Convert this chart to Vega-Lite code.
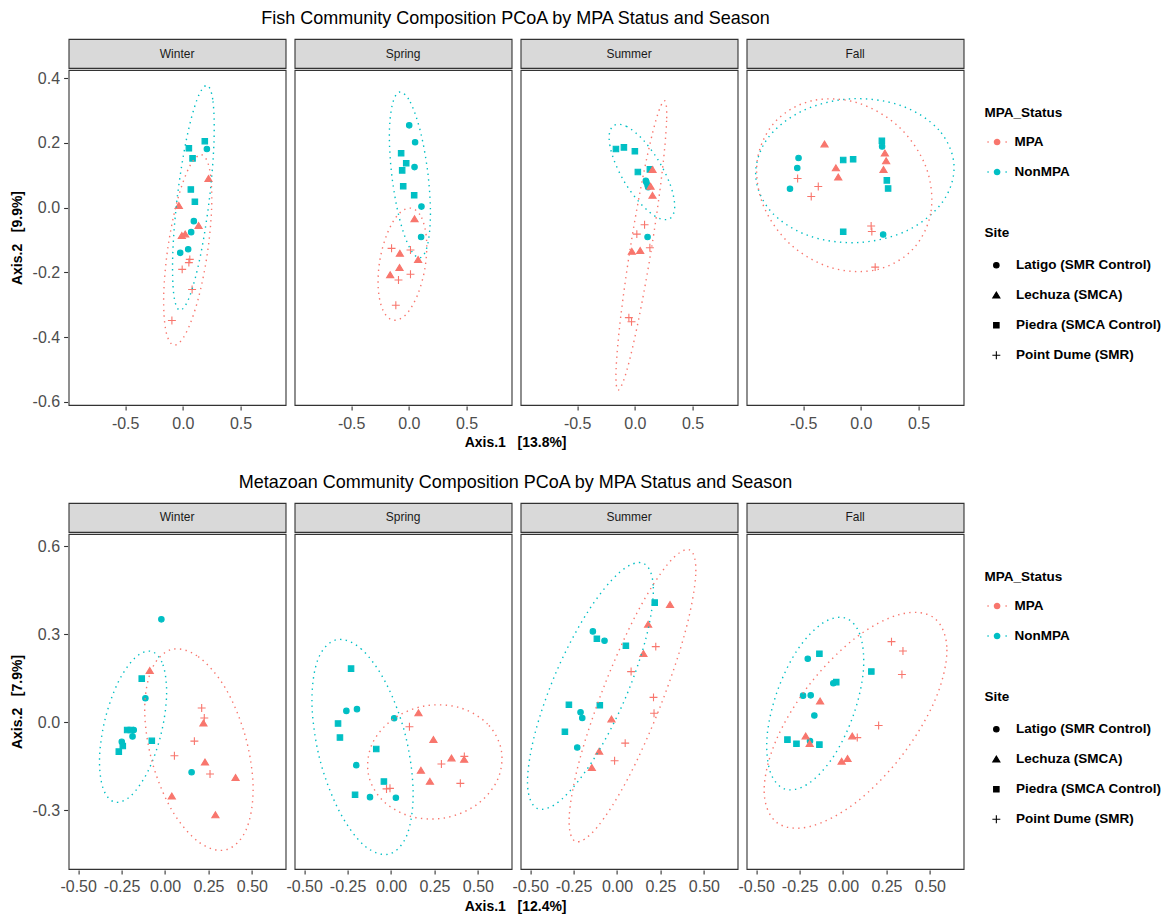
{
  "$schema": "https://vega.github.io/schema/vega-lite/v6.json",
  "background": "white",
  "padding": {"left": 9.6, "top": 10, "right": 0, "bottom": 0},
  "datasets": {
    "seasons": [{"Season": "Winter"}, {"Season": "Spring"}, {"Season": "Summer"}, {"Season": "Fall"}],
    "fish": [
      {"Season": "Winter", "MPA_Status": "NonMPA", "Site": "Piedra (SMCA Control)", "x": 0.052, "y": 0.183},
      {"Season": "Winter", "MPA_Status": "NonMPA", "Site": "Piedra (SMCA Control)", "x": 0.190, "y": 0.205},
      {"Season": "Winter", "MPA_Status": "NonMPA", "Site": "Piedra (SMCA Control)", "x": 0.084, "y": 0.152},
      {"Season": "Winter", "MPA_Status": "NonMPA", "Site": "Piedra (SMCA Control)", "x": 0.069, "y": 0.056},
      {"Season": "Winter", "MPA_Status": "NonMPA", "Site": "Piedra (SMCA Control)", "x": 0.104, "y": 0.018},
      {"Season": "Winter", "MPA_Status": "NonMPA", "Site": "Latigo (SMR Control)", "x": 0.208, "y": 0.181},
      {"Season": "Winter", "MPA_Status": "NonMPA", "Site": "Latigo (SMR Control)", "x": 0.095, "y": -0.042},
      {"Season": "Winter", "MPA_Status": "NonMPA", "Site": "Latigo (SMR Control)", "x": 0.072, "y": -0.076},
      {"Season": "Winter", "MPA_Status": "NonMPA", "Site": "Latigo (SMR Control)", "x": 0.046, "y": -0.129},
      {"Season": "Winter", "MPA_Status": "NonMPA", "Site": "Latigo (SMR Control)", "x": -0.023, "y": -0.140},
      {"Season": "Winter", "MPA_Status": "MPA", "Site": "Lechuza (SMCA)", "x": 0.222, "y": 0.089},
      {"Season": "Winter", "MPA_Status": "MPA", "Site": "Lechuza (SMCA)", "x": -0.035, "y": 0.006},
      {"Season": "Winter", "MPA_Status": "MPA", "Site": "Lechuza (SMCA)", "x": 0.136, "y": -0.056},
      {"Season": "Winter", "MPA_Status": "MPA", "Site": "Lechuza (SMCA)", "x": 0.020, "y": -0.082},
      {"Season": "Winter", "MPA_Status": "MPA", "Site": "Lechuza (SMCA)", "x": -0.009, "y": -0.087},
      {"Season": "Winter", "MPA_Status": "MPA", "Site": "Point Dume (SMR)", "x": 0.060, "y": -0.160},
      {"Season": "Winter", "MPA_Status": "MPA", "Site": "Point Dume (SMR)", "x": 0.052, "y": -0.170},
      {"Season": "Winter", "MPA_Status": "MPA", "Site": "Point Dume (SMR)", "x": -0.006, "y": -0.191},
      {"Season": "Winter", "MPA_Status": "MPA", "Site": "Point Dume (SMR)", "x": 0.080, "y": -0.253},
      {"Season": "Winter", "MPA_Status": "MPA", "Site": "Point Dume (SMR)", "x": -0.095, "y": -0.349},
      {"Season": "Spring", "MPA_Status": "NonMPA", "Site": "Latigo (SMR Control)", "x": 0.003, "y": 0.254},
      {"Season": "Spring", "MPA_Status": "NonMPA", "Site": "Latigo (SMR Control)", "x": 0.054, "y": 0.202},
      {"Season": "Spring", "MPA_Status": "NonMPA", "Site": "Latigo (SMR Control)", "x": 0.049, "y": 0.125},
      {"Season": "Spring", "MPA_Status": "NonMPA", "Site": "Latigo (SMR Control)", "x": 0.109, "y": 0.003},
      {"Season": "Spring", "MPA_Status": "NonMPA", "Site": "Latigo (SMR Control)", "x": 0.106, "y": -0.091},
      {"Season": "Spring", "MPA_Status": "NonMPA", "Site": "Piedra (SMCA Control)", "x": -0.067, "y": 0.168},
      {"Season": "Spring", "MPA_Status": "NonMPA", "Site": "Piedra (SMCA Control)", "x": -0.023, "y": 0.137},
      {"Season": "Spring", "MPA_Status": "NonMPA", "Site": "Piedra (SMCA Control)", "x": -0.058, "y": 0.115},
      {"Season": "Spring", "MPA_Status": "NonMPA", "Site": "Piedra (SMCA Control)", "x": -0.049, "y": 0.066},
      {"Season": "Spring", "MPA_Status": "NonMPA", "Site": "Piedra (SMCA Control)", "x": 0.046, "y": 0.038},
      {"Season": "Spring", "MPA_Status": "MPA", "Site": "Lechuza (SMCA)", "x": 0.049, "y": -0.035},
      {"Season": "Spring", "MPA_Status": "MPA", "Site": "Lechuza (SMCA)", "x": -0.078, "y": -0.142},
      {"Season": "Spring", "MPA_Status": "MPA", "Site": "Lechuza (SMCA)", "x": 0.080, "y": -0.161},
      {"Season": "Spring", "MPA_Status": "MPA", "Site": "Lechuza (SMCA)", "x": -0.081, "y": -0.186},
      {"Season": "Spring", "MPA_Status": "MPA", "Site": "Lechuza (SMCA)", "x": -0.162, "y": -0.208},
      {"Season": "Spring", "MPA_Status": "MPA", "Site": "Point Dume (SMR)", "x": -0.150, "y": -0.126},
      {"Season": "Spring", "MPA_Status": "MPA", "Site": "Point Dume (SMR)", "x": 0.014, "y": -0.131},
      {"Season": "Spring", "MPA_Status": "MPA", "Site": "Point Dume (SMR)", "x": 0.014, "y": -0.206},
      {"Season": "Spring", "MPA_Status": "MPA", "Site": "Point Dume (SMR)", "x": -0.090, "y": -0.224},
      {"Season": "Spring", "MPA_Status": "MPA", "Site": "Point Dume (SMR)", "x": -0.113, "y": -0.302},
      {"Season": "Summer", "MPA_Status": "NonMPA", "Site": "Piedra (SMCA Control)", "x": -0.164, "y": 0.181},
      {"Season": "Summer", "MPA_Status": "NonMPA", "Site": "Piedra (SMCA Control)", "x": -0.095, "y": 0.186},
      {"Season": "Summer", "MPA_Status": "NonMPA", "Site": "Piedra (SMCA Control)", "x": 0.000, "y": 0.174},
      {"Season": "Summer", "MPA_Status": "NonMPA", "Site": "Piedra (SMCA Control)", "x": 0.026, "y": 0.110},
      {"Season": "Summer", "MPA_Status": "NonMPA", "Site": "Piedra (SMCA Control)", "x": 0.130, "y": 0.118},
      {"Season": "Summer", "MPA_Status": "NonMPA", "Site": "Latigo (SMR Control)", "x": 0.095, "y": 0.083},
      {"Season": "Summer", "MPA_Status": "NonMPA", "Site": "Latigo (SMR Control)", "x": 0.110, "y": 0.069},
      {"Season": "Summer", "MPA_Status": "NonMPA", "Site": "Latigo (SMR Control)", "x": 0.100, "y": 0.078},
      {"Season": "Summer", "MPA_Status": "NonMPA", "Site": "Latigo (SMR Control)", "x": 0.115, "y": 0.063},
      {"Season": "Summer", "MPA_Status": "NonMPA", "Site": "Latigo (SMR Control)", "x": 0.110, "y": -0.091},
      {"Season": "Summer", "MPA_Status": "MPA", "Site": "Lechuza (SMCA)", "x": 0.153, "y": 0.117},
      {"Season": "Summer", "MPA_Status": "MPA", "Site": "Lechuza (SMCA)", "x": 0.136, "y": 0.065},
      {"Season": "Summer", "MPA_Status": "MPA", "Site": "Lechuza (SMCA)", "x": 0.153, "y": 0.037},
      {"Season": "Summer", "MPA_Status": "MPA", "Site": "Lechuza (SMCA)", "x": -0.026, "y": -0.136},
      {"Season": "Summer", "MPA_Status": "MPA", "Site": "Lechuza (SMCA)", "x": 0.046, "y": -0.133},
      {"Season": "Summer", "MPA_Status": "MPA", "Site": "Point Dume (SMR)", "x": 0.084, "y": -0.053},
      {"Season": "Summer", "MPA_Status": "MPA", "Site": "Point Dume (SMR)", "x": 0.017, "y": -0.082},
      {"Season": "Summer", "MPA_Status": "MPA", "Site": "Point Dume (SMR)", "x": 0.130, "y": -0.124},
      {"Season": "Summer", "MPA_Status": "MPA", "Site": "Point Dume (SMR)", "x": -0.052, "y": -0.340},
      {"Season": "Summer", "MPA_Status": "MPA", "Site": "Point Dume (SMR)", "x": -0.029, "y": -0.353},
      {"Season": "Fall", "MPA_Status": "NonMPA", "Site": "Latigo (SMR Control)", "x": -0.540, "y": 0.153},
      {"Season": "Fall", "MPA_Status": "NonMPA", "Site": "Latigo (SMR Control)", "x": -0.551, "y": 0.122},
      {"Season": "Fall", "MPA_Status": "NonMPA", "Site": "Latigo (SMR Control)", "x": -0.614, "y": 0.058},
      {"Season": "Fall", "MPA_Status": "NonMPA", "Site": "Latigo (SMR Control)", "x": 0.184, "y": 0.189},
      {"Season": "Fall", "MPA_Status": "NonMPA", "Site": "Latigo (SMR Control)", "x": 0.193, "y": -0.083},
      {"Season": "Fall", "MPA_Status": "NonMPA", "Site": "Piedra (SMCA Control)", "x": 0.182, "y": 0.206},
      {"Season": "Fall", "MPA_Status": "NonMPA", "Site": "Piedra (SMCA Control)", "x": -0.153, "y": 0.147},
      {"Season": "Fall", "MPA_Status": "NonMPA", "Site": "Piedra (SMCA Control)", "x": -0.067, "y": 0.149},
      {"Season": "Fall", "MPA_Status": "NonMPA", "Site": "Piedra (SMCA Control)", "x": 0.225, "y": 0.084},
      {"Season": "Fall", "MPA_Status": "NonMPA", "Site": "Piedra (SMCA Control)", "x": 0.236, "y": 0.059},
      {"Season": "Fall", "MPA_Status": "NonMPA", "Site": "Piedra (SMCA Control)", "x": -0.153, "y": -0.075},
      {"Season": "Fall", "MPA_Status": "MPA", "Site": "Lechuza (SMCA)", "x": -0.315, "y": 0.196},
      {"Season": "Fall", "MPA_Status": "MPA", "Site": "Lechuza (SMCA)", "x": 0.208, "y": 0.168},
      {"Season": "Fall", "MPA_Status": "MPA", "Site": "Lechuza (SMCA)", "x": 0.219, "y": 0.144},
      {"Season": "Fall", "MPA_Status": "MPA", "Site": "Lechuza (SMCA)", "x": -0.216, "y": 0.122},
      {"Season": "Fall", "MPA_Status": "MPA", "Site": "Lechuza (SMCA)", "x": -0.196, "y": 0.094},
      {"Season": "Fall", "MPA_Status": "MPA", "Site": "Lechuza (SMCA)", "x": 0.196, "y": 0.117},
      {"Season": "Fall", "MPA_Status": "MPA", "Site": "Point Dume (SMR)", "x": -0.548, "y": 0.090},
      {"Season": "Fall", "MPA_Status": "MPA", "Site": "Point Dume (SMR)", "x": -0.369, "y": 0.065},
      {"Season": "Fall", "MPA_Status": "MPA", "Site": "Point Dume (SMR)", "x": -0.430, "y": 0.034},
      {"Season": "Fall", "MPA_Status": "MPA", "Site": "Point Dume (SMR)", "x": 0.089, "y": -0.057},
      {"Season": "Fall", "MPA_Status": "MPA", "Site": "Point Dume (SMR)", "x": 0.095, "y": -0.074},
      {"Season": "Fall", "MPA_Status": "MPA", "Site": "Point Dume (SMR)", "x": 0.124, "y": -0.184},
      {"Season": "Winter", "MPA_Status": "NonMPA", "k": 0, "x": 0.208, "y": 0.377},
      {"Season": "Winter", "MPA_Status": "NonMPA", "k": 1, "x": 0.261, "y": 0.328},
      {"Season": "Winter", "MPA_Status": "NonMPA", "k": 2, "x": 0.269, "y": 0.198},
      {"Season": "Winter", "MPA_Status": "NonMPA", "k": 3, "x": 0.229, "y": 0.024},
      {"Season": "Winter", "MPA_Status": "NonMPA", "k": 4, "x": 0.152, "y": -0.149},
      {"Season": "Winter", "MPA_Status": "NonMPA", "k": 5, "x": 0.059, "y": -0.274},
      {"Season": "Winter", "MPA_Status": "NonMPA", "k": 6, "x": -0.026, "y": -0.317},
      {"Season": "Winter", "MPA_Status": "NonMPA", "k": 7, "x": -0.079, "y": -0.268},
      {"Season": "Winter", "MPA_Status": "NonMPA", "k": 8, "x": -0.087, "y": -0.138},
      {"Season": "Winter", "MPA_Status": "NonMPA", "k": 9, "x": -0.047, "y": 0.036},
      {"Season": "Winter", "MPA_Status": "NonMPA", "k": 10, "x": 0.030, "y": 0.209},
      {"Season": "Winter", "MPA_Status": "NonMPA", "k": 11, "x": 0.123, "y": 0.334},
      {"Season": "Winter", "MPA_Status": "MPA", "k": 0, "x": 0.162, "y": 0.163},
      {"Season": "Winter", "MPA_Status": "MPA", "k": 1, "x": 0.231, "y": 0.119},
      {"Season": "Winter", "MPA_Status": "MPA", "k": 2, "x": 0.250, "y": 0.008},
      {"Season": "Winter", "MPA_Status": "MPA", "k": 3, "x": 0.213, "y": -0.140},
      {"Season": "Winter", "MPA_Status": "MPA", "k": 4, "x": 0.130, "y": -0.286},
      {"Season": "Winter", "MPA_Status": "MPA", "k": 5, "x": 0.024, "y": -0.390},
      {"Season": "Winter", "MPA_Status": "MPA", "k": 6, "x": -0.078, "y": -0.425},
      {"Season": "Winter", "MPA_Status": "MPA", "k": 7, "x": -0.147, "y": -0.381},
      {"Season": "Winter", "MPA_Status": "MPA", "k": 8, "x": -0.166, "y": -0.270},
      {"Season": "Winter", "MPA_Status": "MPA", "k": 9, "x": -0.129, "y": -0.122},
      {"Season": "Winter", "MPA_Status": "MPA", "k": 10, "x": -0.046, "y": 0.024},
      {"Season": "Winter", "MPA_Status": "MPA", "k": 11, "x": 0.060, "y": 0.128},
      {"Season": "Spring", "MPA_Status": "NonMPA", "k": 0, "x": -0.078, "y": 0.357},
      {"Season": "Spring", "MPA_Status": "NonMPA", "k": 1, "x": 0.012, "y": 0.326},
      {"Season": "Spring", "MPA_Status": "NonMPA", "k": 2, "x": 0.100, "y": 0.235},
      {"Season": "Spring", "MPA_Status": "NonMPA", "k": 3, "x": 0.164, "y": 0.108},
      {"Season": "Spring", "MPA_Status": "NonMPA", "k": 4, "x": 0.187, "y": -0.021},
      {"Season": "Spring", "MPA_Status": "NonMPA", "k": 5, "x": 0.161, "y": -0.117},
      {"Season": "Spring", "MPA_Status": "NonMPA", "k": 6, "x": 0.096, "y": -0.155},
      {"Season": "Spring", "MPA_Status": "NonMPA", "k": 7, "x": 0.006, "y": -0.124},
      {"Season": "Spring", "MPA_Status": "NonMPA", "k": 8, "x": -0.082, "y": -0.033},
      {"Season": "Spring", "MPA_Status": "NonMPA", "k": 9, "x": -0.146, "y": 0.094},
      {"Season": "Spring", "MPA_Status": "NonMPA", "k": 10, "x": -0.169, "y": 0.223},
      {"Season": "Spring", "MPA_Status": "NonMPA", "k": 11, "x": -0.143, "y": 0.319},
      {"Season": "Spring", "MPA_Status": "MPA", "k": 0, "x": 0.023, "y": -0.002},
      {"Season": "Spring", "MPA_Status": "MPA", "k": 1, "x": 0.110, "y": -0.031},
      {"Season": "Spring", "MPA_Status": "MPA", "k": 2, "x": 0.153, "y": -0.098},
      {"Season": "Spring", "MPA_Status": "MPA", "k": 3, "x": 0.140, "y": -0.186},
      {"Season": "Spring", "MPA_Status": "MPA", "k": 4, "x": 0.074, "y": -0.271},
      {"Season": "Spring", "MPA_Status": "MPA", "k": 5, "x": -0.026, "y": -0.331},
      {"Season": "Spring", "MPA_Status": "MPA", "k": 6, "x": -0.135, "y": -0.348},
      {"Season": "Spring", "MPA_Status": "MPA", "k": 7, "x": -0.222, "y": -0.319},
      {"Season": "Spring", "MPA_Status": "MPA", "k": 8, "x": -0.265, "y": -0.252},
      {"Season": "Spring", "MPA_Status": "MPA", "k": 9, "x": -0.252, "y": -0.164},
      {"Season": "Spring", "MPA_Status": "MPA", "k": 10, "x": -0.186, "y": -0.079},
      {"Season": "Spring", "MPA_Status": "MPA", "k": 11, "x": -0.086, "y": -0.019},
      {"Season": "Summer", "MPA_Status": "NonMPA", "k": 0, "x": -0.181, "y": 0.254},
      {"Season": "Summer", "MPA_Status": "NonMPA", "k": 1, "x": -0.074, "y": 0.251},
      {"Season": "Summer", "MPA_Status": "NonMPA", "k": 2, "x": 0.069, "y": 0.210},
      {"Season": "Summer", "MPA_Status": "NonMPA", "k": 3, "x": 0.210, "y": 0.142},
      {"Season": "Summer", "MPA_Status": "NonMPA", "k": 4, "x": 0.311, "y": 0.066},
      {"Season": "Summer", "MPA_Status": "NonMPA", "k": 5, "x": 0.345, "y": 0.001},
      {"Season": "Summer", "MPA_Status": "NonMPA", "k": 6, "x": 0.303, "y": -0.034},
      {"Season": "Summer", "MPA_Status": "NonMPA", "k": 7, "x": 0.196, "y": -0.031},
      {"Season": "Summer", "MPA_Status": "NonMPA", "k": 8, "x": 0.053, "y": 0.011},
      {"Season": "Summer", "MPA_Status": "NonMPA", "k": 9, "x": -0.088, "y": 0.078},
      {"Season": "Summer", "MPA_Status": "NonMPA", "k": 10, "x": -0.189, "y": 0.155},
      {"Season": "Summer", "MPA_Status": "NonMPA", "k": 11, "x": -0.223, "y": 0.219},
      {"Season": "Summer", "MPA_Status": "MPA", "k": 0, "x": 0.257, "y": 0.330},
      {"Season": "Summer", "MPA_Status": "MPA", "k": 1, "x": 0.275, "y": 0.268},
      {"Season": "Summer", "MPA_Status": "MPA", "k": 2, "x": 0.234, "y": 0.102},
      {"Season": "Summer", "MPA_Status": "MPA", "k": 3, "x": 0.146, "y": -0.122},
      {"Season": "Summer", "MPA_Status": "MPA", "k": 4, "x": 0.033, "y": -0.345},
      {"Season": "Summer", "MPA_Status": "MPA", "k": 5, "x": -0.073, "y": -0.507},
      {"Season": "Summer", "MPA_Status": "MPA", "k": 6, "x": -0.145, "y": -0.564},
      {"Season": "Summer", "MPA_Status": "MPA", "k": 7, "x": -0.163, "y": -0.502},
      {"Season": "Summer", "MPA_Status": "MPA", "k": 8, "x": -0.122, "y": -0.336},
      {"Season": "Summer", "MPA_Status": "MPA", "k": 9, "x": -0.034, "y": -0.112},
      {"Season": "Summer", "MPA_Status": "MPA", "k": 10, "x": 0.079, "y": 0.111},
      {"Season": "Summer", "MPA_Status": "MPA", "k": 11, "x": 0.185, "y": 0.273},
      {"Season": "Fall", "MPA_Status": "NonMPA", "k": 0, "x": 0.807, "y": 0.131},
      {"Season": "Fall", "MPA_Status": "NonMPA", "k": 1, "x": 0.675, "y": 0.240},
      {"Season": "Fall", "MPA_Status": "NonMPA", "k": 2, "x": 0.348, "y": 0.315},
      {"Season": "Fall", "MPA_Status": "NonMPA", "k": 3, "x": -0.086, "y": 0.336},
      {"Season": "Fall", "MPA_Status": "NonMPA", "k": 4, "x": -0.511, "y": 0.298},
      {"Season": "Fall", "MPA_Status": "NonMPA", "k": 5, "x": -0.813, "y": 0.211},
      {"Season": "Fall", "MPA_Status": "NonMPA", "k": 6, "x": -0.911, "y": 0.097},
      {"Season": "Fall", "MPA_Status": "NonMPA", "k": 7, "x": -0.779, "y": -0.012},
      {"Season": "Fall", "MPA_Status": "NonMPA", "k": 8, "x": -0.452, "y": -0.087},
      {"Season": "Fall", "MPA_Status": "NonMPA", "k": 9, "x": -0.018, "y": -0.108},
      {"Season": "Fall", "MPA_Status": "NonMPA", "k": 10, "x": 0.407, "y": -0.070},
      {"Season": "Fall", "MPA_Status": "NonMPA", "k": 11, "x": 0.709, "y": 0.018},
      {"Season": "Fall", "MPA_Status": "MPA", "k": 0, "x": 0.452, "y": -0.128},
      {"Season": "Fall", "MPA_Status": "MPA", "k": 1, "x": 0.608, "y": -0.011},
      {"Season": "Fall", "MPA_Status": "MPA", "k": 2, "x": 0.562, "y": 0.127},
      {"Season": "Fall", "MPA_Status": "MPA", "k": 3, "x": 0.327, "y": 0.250},
      {"Season": "Fall", "MPA_Status": "MPA", "k": 4, "x": -0.034, "y": 0.324},
      {"Season": "Fall", "MPA_Status": "MPA", "k": 5, "x": -0.425, "y": 0.330},
      {"Season": "Fall", "MPA_Status": "MPA", "k": 6, "x": -0.740, "y": 0.266},
      {"Season": "Fall", "MPA_Status": "MPA", "k": 7, "x": -0.896, "y": 0.149},
      {"Season": "Fall", "MPA_Status": "MPA", "k": 8, "x": -0.850, "y": 0.011},
      {"Season": "Fall", "MPA_Status": "MPA", "k": 9, "x": -0.615, "y": -0.112},
      {"Season": "Fall", "MPA_Status": "MPA", "k": 10, "x": -0.254, "y": -0.186},
      {"Season": "Fall", "MPA_Status": "MPA", "k": 11, "x": 0.137, "y": -0.192}
    ],
    "meta": [
      {"Season": "Winter", "MPA_Status": "NonMPA", "Site": "Latigo (SMR Control)", "x": -0.021, "y": 0.350},
      {"Season": "Winter", "MPA_Status": "NonMPA", "Site": "Latigo (SMR Control)", "x": -0.113, "y": 0.081},
      {"Season": "Winter", "MPA_Status": "NonMPA", "Site": "Latigo (SMR Control)", "x": -0.180, "y": -0.027},
      {"Season": "Winter", "MPA_Status": "NonMPA", "Site": "Latigo (SMR Control)", "x": -0.187, "y": -0.049},
      {"Season": "Winter", "MPA_Status": "NonMPA", "Site": "Latigo (SMR Control)", "x": -0.249, "y": -0.067},
      {"Season": "Winter", "MPA_Status": "NonMPA", "Site": "Latigo (SMR Control)", "x": 0.153, "y": -0.171},
      {"Season": "Winter", "MPA_Status": "NonMPA", "Site": "Piedra (SMCA Control)", "x": -0.134, "y": 0.148},
      {"Season": "Winter", "MPA_Status": "NonMPA", "Site": "Piedra (SMCA Control)", "x": -0.218, "y": -0.027},
      {"Season": "Winter", "MPA_Status": "NonMPA", "Site": "Piedra (SMCA Control)", "x": -0.197, "y": -0.027},
      {"Season": "Winter", "MPA_Status": "NonMPA", "Site": "Piedra (SMCA Control)", "x": -0.076, "y": -0.064},
      {"Season": "Winter", "MPA_Status": "NonMPA", "Site": "Piedra (SMCA Control)", "x": -0.243, "y": -0.082},
      {"Season": "Winter", "MPA_Status": "NonMPA", "Site": "Piedra (SMCA Control)", "x": -0.266, "y": -0.101},
      {"Season": "Winter", "MPA_Status": "MPA", "Site": "Lechuza (SMCA)", "x": -0.088, "y": 0.175},
      {"Season": "Winter", "MPA_Status": "MPA", "Site": "Lechuza (SMCA)", "x": 0.221, "y": -0.004},
      {"Season": "Winter", "MPA_Status": "MPA", "Site": "Lechuza (SMCA)", "x": 0.230, "y": -0.137},
      {"Season": "Winter", "MPA_Status": "MPA", "Site": "Lechuza (SMCA)", "x": 0.406, "y": -0.190},
      {"Season": "Winter", "MPA_Status": "MPA", "Site": "Lechuza (SMCA)", "x": 0.039, "y": -0.253},
      {"Season": "Winter", "MPA_Status": "MPA", "Site": "Lechuza (SMCA)", "x": 0.290, "y": -0.317},
      {"Season": "Winter", "MPA_Status": "MPA", "Site": "Point Dume (SMR)", "x": 0.211, "y": 0.048},
      {"Season": "Winter", "MPA_Status": "MPA", "Site": "Point Dume (SMR)", "x": 0.226, "y": 0.014},
      {"Season": "Winter", "MPA_Status": "MPA", "Site": "Point Dume (SMR)", "x": 0.169, "y": -0.065},
      {"Season": "Winter", "MPA_Status": "MPA", "Site": "Point Dume (SMR)", "x": 0.054, "y": -0.115},
      {"Season": "Winter", "MPA_Status": "MPA", "Site": "Point Dume (SMR)", "x": 0.259, "y": -0.177},
      {"Season": "Spring", "MPA_Status": "NonMPA", "Site": "Piedra (SMCA Control)", "x": -0.230, "y": 0.182},
      {"Season": "Spring", "MPA_Status": "NonMPA", "Site": "Piedra (SMCA Control)", "x": -0.305, "y": -0.005},
      {"Season": "Spring", "MPA_Status": "NonMPA", "Site": "Piedra (SMCA Control)", "x": -0.294, "y": -0.053},
      {"Season": "Spring", "MPA_Status": "NonMPA", "Site": "Piedra (SMCA Control)", "x": -0.085, "y": -0.092},
      {"Season": "Spring", "MPA_Status": "NonMPA", "Site": "Piedra (SMCA Control)", "x": -0.041, "y": -0.203},
      {"Season": "Spring", "MPA_Status": "NonMPA", "Site": "Piedra (SMCA Control)", "x": -0.207, "y": -0.248},
      {"Season": "Spring", "MPA_Status": "NonMPA", "Site": "Latigo (SMR Control)", "x": -0.257, "y": 0.038},
      {"Season": "Spring", "MPA_Status": "NonMPA", "Site": "Latigo (SMR Control)", "x": -0.196, "y": 0.044},
      {"Season": "Spring", "MPA_Status": "NonMPA", "Site": "Latigo (SMR Control)", "x": 0.018, "y": 0.013},
      {"Season": "Spring", "MPA_Status": "NonMPA", "Site": "Latigo (SMR Control)", "x": -0.200, "y": -0.147},
      {"Season": "Spring", "MPA_Status": "NonMPA", "Site": "Latigo (SMR Control)", "x": -0.121, "y": -0.256},
      {"Season": "Spring", "MPA_Status": "NonMPA", "Site": "Latigo (SMR Control)", "x": 0.028, "y": -0.258},
      {"Season": "Spring", "MPA_Status": "MPA", "Site": "Lechuza (SMCA)", "x": 0.158, "y": 0.031},
      {"Season": "Spring", "MPA_Status": "MPA", "Site": "Lechuza (SMCA)", "x": 0.244, "y": -0.060},
      {"Season": "Spring", "MPA_Status": "MPA", "Site": "Lechuza (SMCA)", "x": 0.348, "y": -0.123},
      {"Season": "Spring", "MPA_Status": "MPA", "Site": "Lechuza (SMCA)", "x": 0.421, "y": -0.128},
      {"Season": "Spring", "MPA_Status": "MPA", "Site": "Lechuza (SMCA)", "x": 0.172, "y": -0.165},
      {"Season": "Spring", "MPA_Status": "MPA", "Site": "Lechuza (SMCA)", "x": 0.224, "y": -0.203},
      {"Season": "Spring", "MPA_Status": "MPA", "Site": "Point Dume (SMR)", "x": 0.106, "y": -0.016},
      {"Season": "Spring", "MPA_Status": "MPA", "Site": "Point Dume (SMR)", "x": 0.422, "y": -0.117},
      {"Season": "Spring", "MPA_Status": "MPA", "Site": "Point Dume (SMR)", "x": 0.290, "y": -0.143},
      {"Season": "Spring", "MPA_Status": "MPA", "Site": "Point Dume (SMR)", "x": 0.399, "y": -0.209},
      {"Season": "Spring", "MPA_Status": "MPA", "Site": "Point Dume (SMR)", "x": -0.026, "y": -0.228},
      {"Season": "Spring", "MPA_Status": "MPA", "Site": "Point Dume (SMR)", "x": -0.006, "y": -0.226},
      {"Season": "Summer", "MPA_Status": "NonMPA", "Site": "Piedra (SMCA Control)", "x": 0.217, "y": 0.407},
      {"Season": "Summer", "MPA_Status": "NonMPA", "Site": "Piedra (SMCA Control)", "x": -0.116, "y": 0.284},
      {"Season": "Summer", "MPA_Status": "NonMPA", "Site": "Piedra (SMCA Control)", "x": 0.051, "y": 0.260},
      {"Season": "Summer", "MPA_Status": "NonMPA", "Site": "Piedra (SMCA Control)", "x": -0.277, "y": 0.059},
      {"Season": "Summer", "MPA_Status": "NonMPA", "Site": "Piedra (SMCA Control)", "x": -0.099, "y": 0.057},
      {"Season": "Summer", "MPA_Status": "NonMPA", "Site": "Piedra (SMCA Control)", "x": -0.300, "y": -0.033},
      {"Season": "Summer", "MPA_Status": "NonMPA", "Site": "Latigo (SMR Control)", "x": -0.139, "y": 0.309},
      {"Season": "Summer", "MPA_Status": "NonMPA", "Site": "Latigo (SMR Control)", "x": -0.072, "y": 0.277},
      {"Season": "Summer", "MPA_Status": "NonMPA", "Site": "Latigo (SMR Control)", "x": -0.210, "y": 0.033},
      {"Season": "Summer", "MPA_Status": "NonMPA", "Site": "Latigo (SMR Control)", "x": -0.200, "y": 0.014},
      {"Season": "Summer", "MPA_Status": "NonMPA", "Site": "Latigo (SMR Control)", "x": -0.229, "y": -0.087},
      {"Season": "Summer", "MPA_Status": "MPA", "Site": "Lechuza (SMCA)", "x": 0.305, "y": 0.400},
      {"Season": "Summer", "MPA_Status": "MPA", "Site": "Lechuza (SMCA)", "x": 0.179, "y": 0.333},
      {"Season": "Summer", "MPA_Status": "MPA", "Site": "Lechuza (SMCA)", "x": 0.152, "y": 0.233},
      {"Season": "Summer", "MPA_Status": "MPA", "Site": "Lechuza (SMCA)", "x": -0.032, "y": 0.010},
      {"Season": "Summer", "MPA_Status": "MPA", "Site": "Lechuza (SMCA)", "x": -0.103, "y": -0.100},
      {"Season": "Summer", "MPA_Status": "MPA", "Site": "Lechuza (SMCA)", "x": -0.145, "y": -0.156},
      {"Season": "Summer", "MPA_Status": "MPA", "Site": "Point Dume (SMR)", "x": 0.223, "y": 0.257},
      {"Season": "Summer", "MPA_Status": "MPA", "Site": "Point Dume (SMR)", "x": 0.081, "y": 0.172},
      {"Season": "Summer", "MPA_Status": "MPA", "Site": "Point Dume (SMR)", "x": 0.210, "y": 0.084},
      {"Season": "Summer", "MPA_Status": "MPA", "Site": "Point Dume (SMR)", "x": 0.213, "y": 0.030},
      {"Season": "Summer", "MPA_Status": "MPA", "Site": "Point Dume (SMR)", "x": 0.047, "y": -0.072},
      {"Season": "Summer", "MPA_Status": "MPA", "Site": "Point Dume (SMR)", "x": -0.014, "y": -0.132},
      {"Season": "Fall", "MPA_Status": "NonMPA", "Site": "Latigo (SMR Control)", "x": -0.203, "y": 0.216},
      {"Season": "Fall", "MPA_Status": "NonMPA", "Site": "Latigo (SMR Control)", "x": -0.056, "y": 0.132},
      {"Season": "Fall", "MPA_Status": "NonMPA", "Site": "Latigo (SMR Control)", "x": -0.230, "y": 0.090},
      {"Season": "Fall", "MPA_Status": "NonMPA", "Site": "Latigo (SMR Control)", "x": -0.186, "y": 0.091},
      {"Season": "Fall", "MPA_Status": "NonMPA", "Site": "Latigo (SMR Control)", "x": -0.165, "y": 0.022},
      {"Season": "Fall", "MPA_Status": "NonMPA", "Site": "Latigo (SMR Control)", "x": -0.190, "y": -0.065},
      {"Season": "Fall", "MPA_Status": "NonMPA", "Site": "Piedra (SMCA Control)", "x": -0.136, "y": 0.233},
      {"Season": "Fall", "MPA_Status": "NonMPA", "Site": "Piedra (SMCA Control)", "x": -0.039, "y": 0.136},
      {"Season": "Fall", "MPA_Status": "NonMPA", "Site": "Piedra (SMCA Control)", "x": 0.163, "y": 0.172},
      {"Season": "Fall", "MPA_Status": "NonMPA", "Site": "Piedra (SMCA Control)", "x": -0.320, "y": -0.060},
      {"Season": "Fall", "MPA_Status": "NonMPA", "Site": "Piedra (SMCA Control)", "x": -0.268, "y": -0.074},
      {"Season": "Fall", "MPA_Status": "NonMPA", "Site": "Piedra (SMCA Control)", "x": -0.136, "y": -0.077},
      {"Season": "Fall", "MPA_Status": "MPA", "Site": "Lechuza (SMCA)", "x": -0.132, "y": 0.071},
      {"Season": "Fall", "MPA_Status": "MPA", "Site": "Lechuza (SMCA)", "x": -0.215, "y": -0.048},
      {"Season": "Fall", "MPA_Status": "MPA", "Site": "Lechuza (SMCA)", "x": -0.192, "y": -0.074},
      {"Season": "Fall", "MPA_Status": "MPA", "Site": "Lechuza (SMCA)", "x": 0.053, "y": -0.048},
      {"Season": "Fall", "MPA_Status": "MPA", "Site": "Lechuza (SMCA)", "x": -0.008, "y": -0.134},
      {"Season": "Fall", "MPA_Status": "MPA", "Site": "Lechuza (SMCA)", "x": 0.026, "y": -0.125},
      {"Season": "Fall", "MPA_Status": "MPA", "Site": "Point Dume (SMR)", "x": 0.279, "y": 0.274},
      {"Season": "Fall", "MPA_Status": "MPA", "Site": "Point Dume (SMR)", "x": 0.345, "y": 0.242},
      {"Season": "Fall", "MPA_Status": "MPA", "Site": "Point Dume (SMR)", "x": 0.339, "y": 0.162},
      {"Season": "Fall", "MPA_Status": "MPA", "Site": "Point Dume (SMR)", "x": 0.205, "y": -0.012},
      {"Season": "Fall", "MPA_Status": "MPA", "Site": "Point Dume (SMR)", "x": 0.082, "y": -0.053},
      {"Season": "Winter", "MPA_Status": "NonMPA", "k": 0, "x": -0.079, "y": 0.241},
      {"Season": "Winter", "MPA_Status": "NonMPA", "k": 1, "x": -0.012, "y": 0.195},
      {"Season": "Winter", "MPA_Status": "NonMPA", "k": 2, "x": 0.009, "y": 0.092},
      {"Season": "Winter", "MPA_Status": "NonMPA", "k": 3, "x": -0.022, "y": -0.039},
      {"Season": "Winter", "MPA_Status": "NonMPA", "k": 4, "x": -0.096, "y": -0.165},
      {"Season": "Winter", "MPA_Status": "NonMPA", "k": 5, "x": -0.194, "y": -0.250},
      {"Season": "Winter", "MPA_Status": "NonMPA", "k": 6, "x": -0.289, "y": -0.273},
      {"Season": "Winter", "MPA_Status": "NonMPA", "k": 7, "x": -0.356, "y": -0.227},
      {"Season": "Winter", "MPA_Status": "NonMPA", "k": 8, "x": -0.377, "y": -0.124},
      {"Season": "Winter", "MPA_Status": "NonMPA", "k": 9, "x": -0.346, "y": 0.007},
      {"Season": "Winter", "MPA_Status": "NonMPA", "k": 10, "x": -0.272, "y": 0.133},
      {"Season": "Winter", "MPA_Status": "NonMPA", "k": 11, "x": -0.174, "y": 0.218},
      {"Season": "Winter", "MPA_Status": "MPA", "k": 0, "x": 0.036, "y": 0.247},
      {"Season": "Winter", "MPA_Status": "MPA", "k": 1, "x": 0.191, "y": 0.223},
      {"Season": "Winter", "MPA_Status": "MPA", "k": 2, "x": 0.348, "y": 0.115},
      {"Season": "Winter", "MPA_Status": "MPA", "k": 3, "x": 0.463, "y": -0.050},
      {"Season": "Winter", "MPA_Status": "MPA", "k": 4, "x": 0.507, "y": -0.226},
      {"Season": "Winter", "MPA_Status": "MPA", "k": 5, "x": 0.467, "y": -0.367},
      {"Season": "Winter", "MPA_Status": "MPA", "k": 6, "x": 0.354, "y": -0.435},
      {"Season": "Winter", "MPA_Status": "MPA", "k": 7, "x": 0.199, "y": -0.411},
      {"Season": "Winter", "MPA_Status": "MPA", "k": 8, "x": 0.042, "y": -0.303},
      {"Season": "Winter", "MPA_Status": "MPA", "k": 9, "x": -0.073, "y": -0.138},
      {"Season": "Winter", "MPA_Status": "MPA", "k": 10, "x": -0.117, "y": 0.038},
      {"Season": "Winter", "MPA_Status": "MPA", "k": 11, "x": -0.077, "y": 0.179},
      {"Season": "Spring", "MPA_Status": "NonMPA", "k": 0, "x": -0.317, "y": 0.280},
      {"Season": "Spring", "MPA_Status": "NonMPA", "k": 1, "x": -0.173, "y": 0.250},
      {"Season": "Spring", "MPA_Status": "NonMPA", "k": 2, "x": -0.026, "y": 0.129},
      {"Season": "Spring", "MPA_Status": "NonMPA", "k": 3, "x": 0.084, "y": -0.048},
      {"Season": "Spring", "MPA_Status": "NonMPA", "k": 4, "x": 0.127, "y": -0.236},
      {"Season": "Spring", "MPA_Status": "NonMPA", "k": 5, "x": 0.093, "y": -0.383},
      {"Season": "Spring", "MPA_Status": "NonMPA", "k": 6, "x": -0.011, "y": -0.450},
      {"Season": "Spring", "MPA_Status": "NonMPA", "k": 7, "x": -0.156, "y": -0.420},
      {"Season": "Spring", "MPA_Status": "NonMPA", "k": 8, "x": -0.302, "y": -0.299},
      {"Season": "Spring", "MPA_Status": "NonMPA", "k": 9, "x": -0.412, "y": -0.122},
      {"Season": "Spring", "MPA_Status": "NonMPA", "k": 10, "x": -0.455, "y": 0.066},
      {"Season": "Spring", "MPA_Status": "NonMPA", "k": 11, "x": -0.421, "y": 0.213},
      {"Season": "Spring", "MPA_Status": "MPA", "k": 0, "x": 0.635, "y": -0.097},
      {"Season": "Spring", "MPA_Status": "MPA", "k": 1, "x": 0.556, "y": -0.007},
      {"Season": "Spring", "MPA_Status": "MPA", "k": 2, "x": 0.395, "y": 0.049},
      {"Season": "Spring", "MPA_Status": "MPA", "k": 3, "x": 0.196, "y": 0.055},
      {"Season": "Spring", "MPA_Status": "MPA", "k": 4, "x": 0.012, "y": 0.010},
      {"Season": "Spring", "MPA_Status": "MPA", "k": 5, "x": -0.108, "y": -0.074},
      {"Season": "Spring", "MPA_Status": "MPA", "k": 6, "x": -0.131, "y": -0.175},
      {"Season": "Spring", "MPA_Status": "MPA", "k": 7, "x": -0.052, "y": -0.265},
      {"Season": "Spring", "MPA_Status": "MPA", "k": 8, "x": 0.109, "y": -0.321},
      {"Season": "Spring", "MPA_Status": "MPA", "k": 9, "x": 0.308, "y": -0.327},
      {"Season": "Spring", "MPA_Status": "MPA", "k": 10, "x": 0.492, "y": -0.282},
      {"Season": "Spring", "MPA_Status": "MPA", "k": 11, "x": 0.612, "y": -0.198},
      {"Season": "Summer", "MPA_Status": "NonMPA", "k": 0, "x": 0.152, "y": 0.541},
      {"Season": "Summer", "MPA_Status": "NonMPA", "k": 1, "x": 0.209, "y": 0.460},
      {"Season": "Summer", "MPA_Status": "NonMPA", "k": 2, "x": 0.168, "y": 0.289},
      {"Season": "Summer", "MPA_Status": "NonMPA", "k": 3, "x": 0.042, "y": 0.073},
      {"Season": "Summer", "MPA_Status": "NonMPA", "k": 4, "x": -0.137, "y": -0.129},
      {"Season": "Summer", "MPA_Status": "NonMPA", "k": 5, "x": -0.320, "y": -0.264},
      {"Season": "Summer", "MPA_Status": "NonMPA", "k": 6, "x": -0.458, "y": -0.295},
      {"Season": "Summer", "MPA_Status": "NonMPA", "k": 7, "x": -0.515, "y": -0.214},
      {"Season": "Summer", "MPA_Status": "NonMPA", "k": 8, "x": -0.474, "y": -0.043},
      {"Season": "Summer", "MPA_Status": "NonMPA", "k": 9, "x": -0.348, "y": 0.173},
      {"Season": "Summer", "MPA_Status": "NonMPA", "k": 10, "x": -0.169, "y": 0.375},
      {"Season": "Summer", "MPA_Status": "NonMPA", "k": 11, "x": 0.014, "y": 0.510},
      {"Season": "Summer", "MPA_Status": "MPA", "k": 0, "x": 0.417, "y": 0.587},
      {"Season": "Summer", "MPA_Status": "MPA", "k": 1, "x": 0.453, "y": 0.502},
      {"Season": "Summer", "MPA_Status": "MPA", "k": 2, "x": 0.392, "y": 0.306},
      {"Season": "Summer", "MPA_Status": "MPA", "k": 3, "x": 0.249, "y": 0.053},
      {"Season": "Summer", "MPA_Status": "MPA", "k": 4, "x": 0.064, "y": -0.191},
      {"Season": "Summer", "MPA_Status": "MPA", "k": 5, "x": -0.115, "y": -0.359},
      {"Season": "Summer", "MPA_Status": "MPA", "k": 6, "x": -0.239, "y": -0.407},
      {"Season": "Summer", "MPA_Status": "MPA", "k": 7, "x": -0.275, "y": -0.322},
      {"Season": "Summer", "MPA_Status": "MPA", "k": 8, "x": -0.214, "y": -0.126},
      {"Season": "Summer", "MPA_Status": "MPA", "k": 9, "x": -0.071, "y": 0.127},
      {"Season": "Summer", "MPA_Status": "MPA", "k": 10, "x": 0.114, "y": 0.371},
      {"Season": "Summer", "MPA_Status": "MPA", "k": 11, "x": 0.293, "y": 0.539},
      {"Season": "Fall", "MPA_Status": "NonMPA", "k": 0, "x": 0.017, "y": 0.354},
      {"Season": "Fall", "MPA_Status": "NonMPA", "k": 1, "x": 0.101, "y": 0.292},
      {"Season": "Fall", "MPA_Status": "NonMPA", "k": 2, "x": 0.116, "y": 0.168},
      {"Season": "Fall", "MPA_Status": "NonMPA", "k": 3, "x": 0.056, "y": 0.017},
      {"Season": "Fall", "MPA_Status": "NonMPA", "k": 4, "x": -0.061, "y": -0.123},
      {"Season": "Fall", "MPA_Status": "NonMPA", "k": 5, "x": -0.205, "y": -0.212},
      {"Season": "Fall", "MPA_Status": "NonMPA", "k": 6, "x": -0.337, "y": -0.228},
      {"Season": "Fall", "MPA_Status": "NonMPA", "k": 7, "x": -0.421, "y": -0.166},
      {"Season": "Fall", "MPA_Status": "NonMPA", "k": 8, "x": -0.436, "y": -0.042},
      {"Season": "Fall", "MPA_Status": "NonMPA", "k": 9, "x": -0.376, "y": 0.109},
      {"Season": "Fall", "MPA_Status": "NonMPA", "k": 10, "x": -0.259, "y": 0.249},
      {"Season": "Fall", "MPA_Status": "NonMPA", "k": 11, "x": -0.115, "y": 0.338},
      {"Season": "Fall", "MPA_Status": "MPA", "k": 0, "x": 0.526, "y": 0.354},
      {"Season": "Fall", "MPA_Status": "MPA", "k": 1, "x": 0.598, "y": 0.246},
      {"Season": "Fall", "MPA_Status": "MPA", "k": 2, "x": 0.529, "y": 0.074},
      {"Season": "Fall", "MPA_Status": "MPA", "k": 3, "x": 0.337, "y": -0.116},
      {"Season": "Fall", "MPA_Status": "MPA", "k": 4, "x": 0.075, "y": -0.274},
      {"Season": "Fall", "MPA_Status": "MPA", "k": 5, "x": -0.189, "y": -0.356},
      {"Season": "Fall", "MPA_Status": "MPA", "k": 6, "x": -0.382, "y": -0.342},
      {"Season": "Fall", "MPA_Status": "MPA", "k": 7, "x": -0.454, "y": -0.234},
      {"Season": "Fall", "MPA_Status": "MPA", "k": 8, "x": -0.385, "y": -0.062},
      {"Season": "Fall", "MPA_Status": "MPA", "k": 9, "x": -0.193, "y": 0.128},
      {"Season": "Fall", "MPA_Status": "MPA", "k": 10, "x": 0.070, "y": 0.286},
      {"Season": "Fall", "MPA_Status": "MPA", "k": 11, "x": 0.333, "y": 0.368}
    ]
  },
  "vconcat": [
    {
      "vconcat": [
        {
          "data": {"name": "seasons"},
          "facet": {"column": {"field": "Season", "type": "nominal", "sort": ["Winter", "Spring", "Summer", "Fall"], "title": "Fish Community Composition PCoA by MPA Status and Season", "header": {"labels": false, "titleFontSize": 18, "titleFontWeight": "normal", "titleColor": "black", "titleFont": "Liberation Sans", "titlePadding": 0}}},
          "spacing": {"column": 7},
          "spec": {
            "width": 217, "height": 29,
            "view": {"fill": "#D9D9D9", "stroke": "#333333", "strokeWidth": 1.1},
            "mark": {"type": "text", "fontSize": 12, "color": "#1A1A1A", "font": "Liberation Sans"},
            "encoding": {"text": {"field": "Season", "type": "nominal"}}
          }
        },
        {
          "data": {"name": "fish"},
          "facet": {"column": {"field": "Season", "type": "nominal", "sort": ["Winter", "Spring", "Summer", "Fall"], "title": "Axis.1\u00a0\u00a0\u00a0[13.8%]", "header": {"labels": false, "titleOrient": "bottom", "titleFontSize": 14, "titleFontWeight": "bold", "titleColor": "black", "titleFont": "Liberation Sans", "titlePadding": -5}}},
          "spacing": {"column": 7},
          "spec": {
            "width": 217, "height": 335,
            "view": {"fill": "white", "stroke": "#333333", "strokeWidth": 1.1},
            "layer": [
              {
                "transform": [{"filter": "datum.Site != null"}],
                "mark": {"type": "point", "filled": true, "opacity": 1, "size": 30, "strokeWidth": 1.1},
                "encoding": {
                  "x": {"field": "x", "type": "quantitative", "scale": {"domain": [-0.99, 0.89], "nice": false, "zero": false}, "axis": {"values": [-0.5, 0, 0.5], "labelExpr": "replace(format(datum.value, '.1f'), '−', '-')", "title": null, "labelPadding": 5}},
                  "y": {"field": "y", "type": "quantitative", "scale": {"domain": [-0.61, 0.425], "nice": false, "zero": false}, "axis": {"values": [-0.6, -0.4, -0.2, 0, 0.2, 0.4], "labelExpr": "replace(format(datum.value, '.1f'), '−', '-')", "title": "Axis.2\u00a0\u00a0\u00a0[9.9%]", "labelPadding": 4, "titlePadding": 8}},
                  "color": {"field": "MPA_Status", "type": "nominal", "scale": {"domain": ["MPA", "NonMPA"], "range": ["#F8766D", "#00BFC4"]}, "legend": {"title": "MPA_Status", "orient": "none", "legendX": 916, "legendY": 67, "symbolType": "M-0.32,0A0.32,0.32,0,1,1,0.32,0A0.32,0.32,0,1,1,-0.32,0ZM-0.92,-0.06H-0.8V0.06H-0.92ZM0.8,-0.06H0.92V0.06H0.8Z", "symbolSize": 441, "symbolStrokeWidth": 0, "symbolOpacity": 1, "symbolOffset": 2, "labelOffset": 7, "rowPadding": 13, "titlePadding": 12}},
                  "stroke": {"field": "MPA_Status", "type": "nominal", "scale": {"domain": ["MPA", "NonMPA"], "range": ["#F8766D", "#00BFC4"]}, "legend": null},
                  "shape": {"field": "Site", "type": "nominal", "scale": {"domain": ["Latigo (SMR Control)", "Lechuza (SMCA)", "Piedra (SMCA Control)", "Point Dume (SMR)"], "range": ["circle", "M0,-1.15L1.3,1L-1.3,1Z", "square", "M-1.45,0H1.45M0,-1.45V1.45"]}, "legend": {"title": "Site", "orient": "none", "legendX": 916, "legendY": 187, "symbolSize": 30, "symbolFillColor": "black", "symbolStrokeColor": "black", "symbolStrokeWidth": 1.1, "symbolOpacity": 1, "symbolOffset": 5, "labelOffset": 13, "rowPadding": 15, "titlePadding": 19}}
                }
              },
              {
                "transform": [{"filter": "datum.k != null"}],
                "mark": {"type": "line", "interpolate": "cardinal-closed", "strokeDash": [1.4, 4.3], "strokeWidth": 1.4, "strokeCap": "butt"},
                "encoding": {
                  "x": {"field": "x", "type": "quantitative"},
                  "y": {"field": "y", "type": "quantitative"},
                  "color": {"field": "MPA_Status", "type": "nominal"},
                  "order": {"field": "k", "type": "quantitative"}
                }
              }
            ]
          }
        }
      ],
      "spacing": 0
    },
    {
      "vconcat": [
        {
          "data": {"name": "seasons"},
          "facet": {"column": {"field": "Season", "type": "nominal", "sort": ["Winter", "Spring", "Summer", "Fall"], "title": "Metazoan Community Composition PCoA by MPA Status and Season", "header": {"labels": false, "titleFontSize": 18, "titleFontWeight": "normal", "titleColor": "black", "titleFont": "Liberation Sans", "titlePadding": 0}}},
          "spacing": {"column": 7},
          "spec": {
            "width": 217, "height": 29,
            "view": {"fill": "#D9D9D9", "stroke": "#333333", "strokeWidth": 1.1},
            "mark": {"type": "text", "fontSize": 12, "color": "#1A1A1A", "font": "Liberation Sans"},
            "encoding": {"text": {"field": "Season", "type": "nominal"}}
          }
        },
        {
          "data": {"name": "meta"},
          "facet": {"column": {"field": "Season", "type": "nominal", "sort": ["Winter", "Spring", "Summer", "Fall"], "title": "Axis.1\u00a0\u00a0\u00a0[12.4%]", "header": {"labels": false, "titleOrient": "bottom", "titleFontSize": 14, "titleFontWeight": "bold", "titleColor": "black", "titleFont": "Liberation Sans", "titlePadding": -5}}},
          "spacing": {"column": 7},
          "spec": {
            "width": 217, "height": 335,
            "view": {"fill": "white", "stroke": "#333333", "strokeWidth": 1.1},
            "layer": [
              {
                "transform": [{"filter": "datum.Site != null"}],
                "mark": {"type": "point", "filled": true, "opacity": 1, "size": 30, "strokeWidth": 1.1},
                "encoding": {
                  "x": {"field": "x", "type": "quantitative", "scale": {"domain": [-0.555, 0.694], "nice": false, "zero": false}, "axis": {"values": [-0.5, -0.25, 0, 0.25, 0.5], "labelExpr": "replace(format(datum.value, '.2f'), '−', '-')", "title": null, "labelPadding": 5, "labelOverlap": false}},
                  "y": {"field": "y", "type": "quantitative", "scale": {"domain": [-0.501, 0.641], "nice": false, "zero": false}, "axis": {"values": [-0.3, 0, 0.3, 0.6], "labelExpr": "replace(format(datum.value, '.1f'), '−', '-')", "title": "Axis.2\u00a0\u00a0\u00a0[7.9%]", "labelPadding": 4, "titlePadding": 8}},
                  "color": {"field": "MPA_Status", "type": "nominal", "scale": {"domain": ["MPA", "NonMPA"], "range": ["#F8766D", "#00BFC4"]}, "legend": {"title": "MPA_Status", "orient": "none", "legendX": 916, "legendY": 67, "symbolType": "M-0.32,0A0.32,0.32,0,1,1,0.32,0A0.32,0.32,0,1,1,-0.32,0ZM-0.92,-0.06H-0.8V0.06H-0.92ZM0.8,-0.06H0.92V0.06H0.8Z", "symbolSize": 441, "symbolStrokeWidth": 0, "symbolOpacity": 1, "symbolOffset": 2, "labelOffset": 7, "rowPadding": 13, "titlePadding": 12}},
                  "stroke": {"field": "MPA_Status", "type": "nominal", "scale": {"domain": ["MPA", "NonMPA"], "range": ["#F8766D", "#00BFC4"]}, "legend": null},
                  "shape": {"field": "Site", "type": "nominal", "scale": {"domain": ["Latigo (SMR Control)", "Lechuza (SMCA)", "Piedra (SMCA Control)", "Point Dume (SMR)"], "range": ["circle", "M0,-1.15L1.3,1L-1.3,1Z", "square", "M-1.45,0H1.45M0,-1.45V1.45"]}, "legend": {"title": "Site", "orient": "none", "legendX": 916, "legendY": 187, "symbolSize": 30, "symbolFillColor": "black", "symbolStrokeColor": "black", "symbolStrokeWidth": 1.1, "symbolOpacity": 1, "symbolOffset": 5, "labelOffset": 13, "rowPadding": 15, "titlePadding": 19}}
                }
              },
              {
                "transform": [{"filter": "datum.k != null"}],
                "mark": {"type": "line", "interpolate": "cardinal-closed", "strokeDash": [1.4, 4.3], "strokeWidth": 1.4, "strokeCap": "butt"},
                "encoding": {
                  "x": {"field": "x", "type": "quantitative"},
                  "y": {"field": "y", "type": "quantitative"},
                  "color": {"field": "MPA_Status", "type": "nominal"},
                  "order": {"field": "k", "type": "quantitative"}
                }
              }
            ]
          }
        }
      ],
      "spacing": 0
    }
  ],
  "spacing": 24,
  "resolve": {"scale": {"color": "independent", "shape": "independent", "stroke": "independent", "x": "independent", "y": "independent"}},
  "config": {
    "font": "Liberation Sans",
    "view": {"stroke": "#333333", "strokeWidth": 1.1},
    "axis": {"grid": false, "domain": false, "ticks": true, "tickColor": "#333333", "tickSize": 4, "tickWidth": 1.1, "labelColor": "#4D4D4D", "labelFontSize": 16, "labelFont": "Liberation Sans", "titleFont": "Liberation Sans", "titleFontSize": 14, "titleFontWeight": "bold", "titleColor": "black"},
    "legend": {"titleFont": "Liberation Sans", "labelFont": "Liberation Sans", "titleFontSize": 13.5, "labelFontSize": 13.5, "titleFontWeight": "bold", "labelFontWeight": "bold", "titleColor": "black", "labelColor": "black", "padding": 0, "labelLimit": 400, "titleLimit": 400}
  }
}
